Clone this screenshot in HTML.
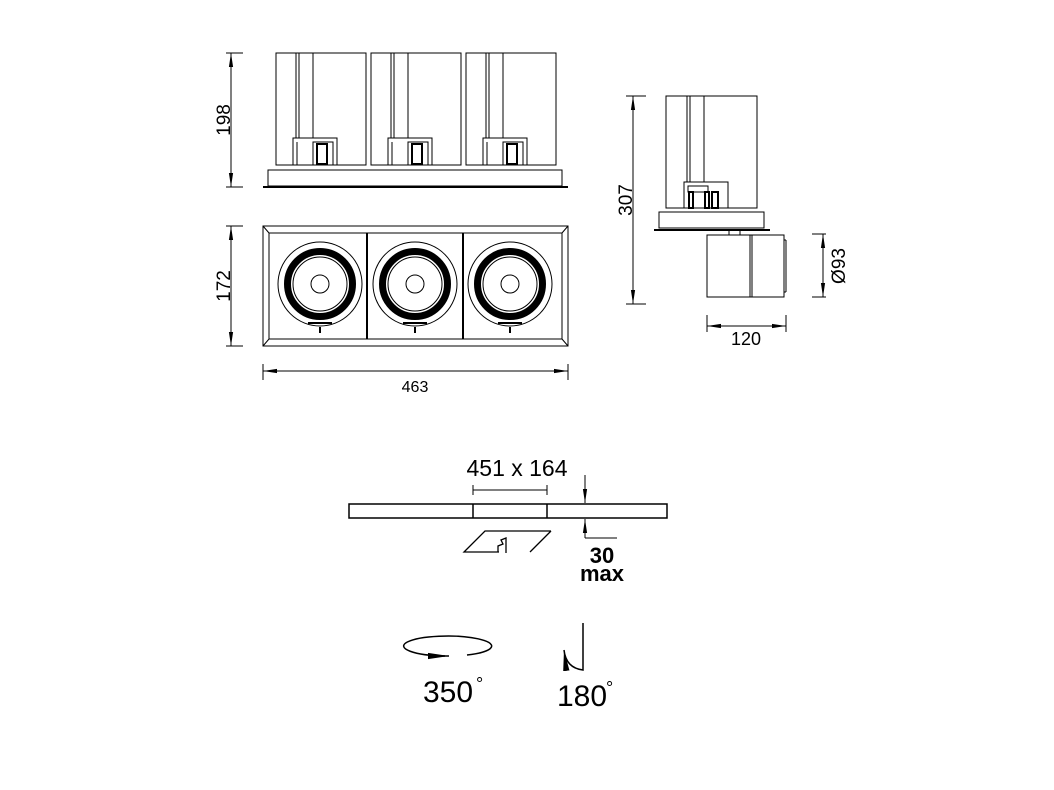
<!DOCTYPE html><html><head><style>body{margin:0;background:#fff}svg{display:block}</style></head><body>
<svg width="1054" height="790" viewBox="0 0 1054 790" xmlns="http://www.w3.org/2000/svg" font-family="Liberation Sans, sans-serif">
<defs><marker id="a" viewBox="0 0 10 10" refX="10" refY="5" markerWidth="14" markerHeight="6" orient="auto-start-reverse" preserveAspectRatio="none"><path d="M0,1.5L10,5L0,8.5z" fill="#000"/></marker></defs>
<g stroke="#000" fill="none" stroke-width="1">
<g id="can">
<rect x="276" y="53" width="90" height="112"/>
<line x1="296" y1="53" x2="296" y2="165"/><line x1="299" y1="53" x2="299" y2="165"/><line x1="313" y1="53" x2="313" y2="138"/>
<rect x="293" y="138" width="44" height="27" fill="#fff"/><line x1="297" y1="142" x2="297" y2="165"/>
<rect x="313" y="142" width="20" height="23"/><rect x="317" y="144" width="10" height="20" stroke-width="2"/>
</g>
<use href="#can" x="95"/><use href="#can" x="190"/>
<rect x="268" y="170" width="294" height="16"/><line x1="263" y1="187" x2="568" y2="187" stroke-width="2"/>
<rect x="263" y="226" width="305" height="120"/><rect x="269" y="233" width="293" height="106"/>
<line x1="263" y1="226" x2="269" y2="233"/><line x1="568" y1="226" x2="562" y2="233"/><line x1="263" y1="346" x2="269" y2="339"/><line x1="568" y1="346" x2="562" y2="339"/>
<line x1="367" y1="233" x2="367" y2="339" stroke-width="2"/><line x1="463" y1="233" x2="463" y2="339" stroke-width="2"/>
<g id="lamp"><circle cx="320" cy="284" r="42"/><circle cx="320" cy="284" r="32.5" stroke-width="7"/><circle cx="320" cy="284" r="27"/><circle cx="320" cy="284" r="9"/>
<line x1="308" y1="323" x2="332" y2="323" stroke-width="2"/><line x1="320" y1="327" x2="320" y2="333" stroke-width="2"/></g>
<use href="#lamp" x="95"/><use href="#lamp" x="190"/>
<line x1="226" y1="53" x2="243" y2="53"/><line x1="226" y1="187" x2="243" y2="187"/>
<line x1="231" y1="53" x2="231" y2="187" marker-start="url(#a)" marker-end="url(#a)"/>
<line x1="226" y1="226" x2="243" y2="226"/><line x1="226" y1="346" x2="243" y2="346"/>
<line x1="231" y1="226" x2="231" y2="346" marker-start="url(#a)" marker-end="url(#a)"/>
<line x1="263" y1="364" x2="263" y2="380"/><line x1="568" y1="364" x2="568" y2="380"/>
<line x1="263" y1="371" x2="568" y2="371" marker-start="url(#a)" marker-end="url(#a)"/>
<rect x="666" y="96" width="91" height="112"/>
<line x1="687" y1="96" x2="687" y2="208"/><line x1="690" y1="96" x2="690" y2="208"/><line x1="704" y1="96" x2="704" y2="186"/>
<rect x="684" y="182" width="44" height="26" fill="#fff"/><rect x="688" y="186" width="20" height="6"/>
<rect x="705" y="192" width="4" height="16" stroke-width="2"/><rect x="712" y="192" width="6" height="16" stroke-width="2"/><rect x="689" y="192" width="4" height="16" stroke-width="2"/>
<rect x="659" y="212" width="105" height="16"/><line x1="654" y1="230" x2="770" y2="230" stroke-width="2"/>
<rect x="729" y="230" width="11" height="5"/>
<rect x="707" y="235" width="43" height="62"/><rect x="750" y="235" width="34" height="62"/><line x1="752" y1="235" x2="752" y2="297"/><line x1="784" y1="240" x2="786" y2="240"/><line x1="786" y1="240" x2="786" y2="292"/><line x1="784" y1="292" x2="786" y2="292"/>
<line x1="626" y1="96" x2="646" y2="96"/><line x1="626" y1="304" x2="646" y2="304"/>
<line x1="633" y1="96" x2="633" y2="304" marker-start="url(#a)" marker-end="url(#a)"/>
<line x1="812" y1="234" x2="826" y2="234"/><line x1="812" y1="297" x2="826" y2="297"/>
<line x1="823" y1="234" x2="823" y2="297" marker-start="url(#a)" marker-end="url(#a)"/>
<line x1="707" y1="315" x2="707" y2="332"/><line x1="786" y1="315" x2="786" y2="332"/>
<line x1="707" y1="326" x2="786" y2="326" marker-start="url(#a)" marker-end="url(#a)"/>
<rect x="349" y="504" width="318" height="14" stroke-width="1.5"/>
<line x1="473" y1="504" x2="473" y2="518" stroke-width="1.5"/><line x1="547" y1="504" x2="547" y2="518" stroke-width="1.5"/>
<line x1="473" y1="490" x2="547" y2="490"/><line x1="473" y1="485" x2="473" y2="495"/><line x1="547" y1="485" x2="547" y2="495"/>
<line x1="585" y1="475" x2="585" y2="503" marker-end="url(#a)"/>
<line x1="585" y1="538" x2="585" y2="519" marker-end="url(#a)"/><line x1="585" y1="538" x2="617" y2="538"/>
<path d="M499,552 L464,552 L485,531 L551,531 M551,531 L530,552" stroke-width="1.3"/>
<path d="M498,552 L498,546 L503,544 L501,540 L506,538 L506,553" stroke-width="1.3"/>
<path d="M467,655 A44,10 0 1 0 445,656" stroke-width="1.5"/>
<line x1="432" y1="656" x2="449" y2="656" stroke-width="1.5" marker-end="url(#a)"/>
<path d="M583,623 L583,670 Q566,668 564,650" stroke-width="1.5" marker-end="url(#a)"/>
</g>
<g fill="#000">
<text transform="translate(230,120) rotate(-90)" text-anchor="middle" font-size="19">198</text>
<text transform="translate(230,286) rotate(-90)" text-anchor="middle" font-size="19">172</text>
<text x="415" y="392" text-anchor="middle" font-size="16">463</text>
<text transform="translate(632,200) rotate(-90)" text-anchor="middle" font-size="19">307</text>
<text transform="translate(845,266) rotate(-90)" text-anchor="middle" font-size="19">Ø93</text>
<text x="746" y="345" text-anchor="middle" font-size="18">120</text>
<text x="517" y="476" text-anchor="middle" font-size="23">451 x 164</text>
<text x="602" y="563" text-anchor="middle" font-size="22" font-weight="bold">30</text>
<text x="602" y="581" text-anchor="middle" font-size="22" font-weight="bold">max</text>
<text x="448" y="702" text-anchor="middle" font-size="30">350</text>
<text x="476" y="690" font-size="18">°</text>
<text x="582" y="706" text-anchor="middle" font-size="30">180</text>
<text x="606" y="694" font-size="18">°</text>
</g>
</svg></body></html>
